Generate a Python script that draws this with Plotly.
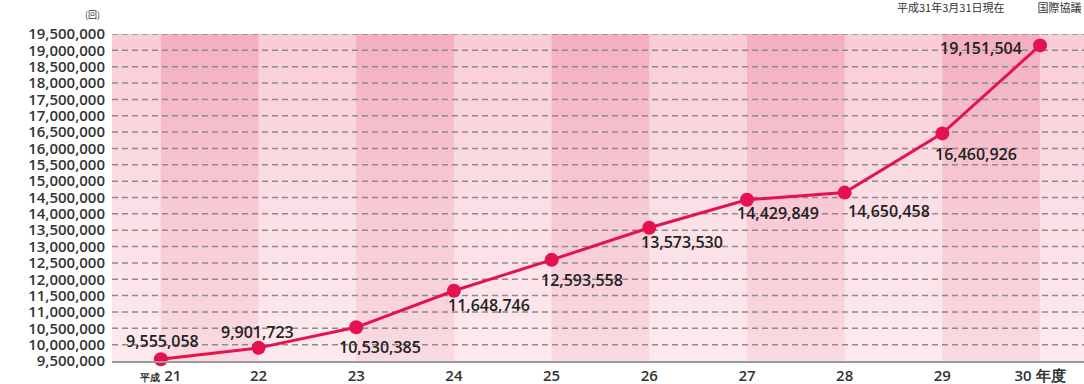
import plotly.graph_objects as go

# ---- data ----
years = ["21", "22", "23", "24", "25", "26", "27", "28", "29", "30"]
tick_labels = ["<span style='font-size:10px'>平成</span> 21", "22", "23", "24", "25",
               "26", "27", "28", "29", "30 年度"]
counts = [9555058, 9901723, 10530385, 11648746, 12593558,
          13573530, 14429849, 14650458, 16460926, 19151504]
label_xshift = [2, -1, 24, 35, 30, 33, 31, 44, 34, -59]
label_yshift = [18, 16, -20, -14, -20, -14, -13, -18, -21, -3]

y_min, y_max, y_step = 9500000, 19500000, 500000
x_lo, x_hi = -0.5, 9.45

idx = list(range(len(years)))
fig = go.Figure()

# light background with vertical gradient
fig.add_trace(go.Scatter(
    x=[x_lo, x_hi, x_hi, x_lo, x_lo], y=[y_min, y_min, y_max, y_max, y_min],
    mode="lines", line=dict(width=0), fill="toself",
    fillgradient=dict(type="vertical", colorscale=[[0, "#fdeaee"], [0.5, "#fbdee5"], [1, "#f9ccd7"]],
                      start=y_min, stop=y_max),
    hoverinfo="skip", showlegend=False))

# darker alternating bands
for i in idx[::2]:
    if i + 1 >= len(idx):
        break
    fig.add_trace(go.Scatter(
        x=[i, i + 1, i + 1, i, i], y=[y_min, y_min, y_max, y_max, y_min],
        mode="lines", line=dict(width=0), fill="toself",
        fillgradient=dict(type="vertical", colorscale=[[0, "#fadae1"], [0.5, "#f7c8d3"], [1, "#f4afc0"]],
                          start=y_min, stop=y_max),
        hoverinfo="skip", showlegend=False))

# dashed gridlines drawn above the background bands
g = y_min + y_step
while g <= y_max:
    fig.add_trace(go.Scatter(
        x=[x_lo, x_hi], y=[g, g], mode="lines",
        line=dict(color="#8c8c8c", width=1.5, dash="6px,4px"),
        hoverinfo="skip", showlegend=False))
    g += y_step

# main line
fig.add_trace(go.Scatter(
    x=idx, y=counts, mode="lines+markers",
    line=dict(color="#e6114f", width=3),
    marker=dict(color="#e6114f", size=14),
    showlegend=False, cliponaxis=False))

for i, v in enumerate(counts):
    fig.add_annotation(x=i, y=v, text=f"{v:,}", showarrow=False,
                       xshift=label_xshift[i], yshift=label_yshift[i],
                       font=dict(family="Open Sans", size=16, color="#222", weight=600))

fig.update_layout(
    width=1084, height=384,
    margin=dict(l=112, r=0, t=34, b=23, autoexpand=False),
    paper_bgcolor="white", plot_bgcolor="white",
    xaxis=dict(range=[x_lo, x_hi], tickmode="array", tickvals=idx, ticktext=tick_labels,
               showgrid=False, zeroline=False, showline=True, linecolor="#9a9a9a", linewidth=1.5,
               tickfont=dict(family="Open Sans", size=15, color="#333", weight=600),
               ticks="", ticklabelstandoff=0, automargin=False),
    yaxis=dict(range=[y_min, y_max], tickmode="linear", tick0=y_min, dtick=y_step,
               tickformat=",d", showgrid=False, zeroline=False,
               tickfont=dict(family="Open Sans", size=15, color="#333", weight=600),
               ticks="", ticklabelstandoff=6, automargin=False),
    font=dict(family="Open Sans"),
)

# unit and source notes (paper coords)
fig.add_annotation(xref="paper", yref="paper", x=(92 - 112) / 972, y=(384 - 23 - 15) / 327,
                   text="(回)", showarrow=False, xanchor="center", yanchor="middle",
                   font=dict(family="Noto Sans CJK JP", size=9, color="#333"))
fig.add_annotation(xref="paper", yref="paper", x=1.0, y=(384 - 23 - 7) / 327,
                   text="平成31年3月31日現在　　　国際協議", showarrow=False,
                   xanchor="right", yanchor="middle",
                   font=dict(family="Noto Sans CJK JP", size=11, color="#333"))

fig.write_html("out.html")
